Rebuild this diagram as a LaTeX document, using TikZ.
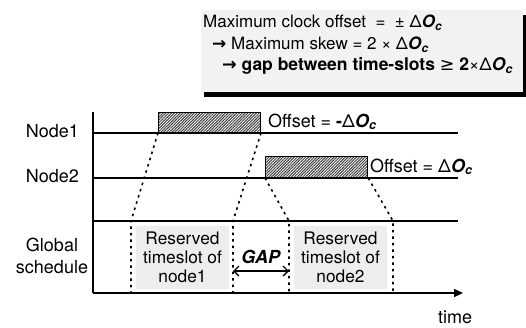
\documentclass[tikz,border=0pt]{standalone}
\usepackage{fontspec}
\setmainfont{TeX Gyre Heros}
\newfontfamily\symf{DejaVu Sans}
\usetikzlibrary{arrows.meta,patterns.meta,shadows}
\newcommand\Oc{\textbf{\textit{O}}\textsubscript{\textbf{\textit{c}}}}
\newcommand\rarr{{\symf\bfseries →}}
\newcommand\geqs{{\symf ≥}}
\tikzset{
  mainline/.style={line width=1.5pt},
  dotline/.style={line width=1.6pt,dash pattern=on 2.5pt off 4pt},
  lbl/.style={inner sep=0pt,font=\fontsize{18}{22}\selectfont},
  toptext/.style={inner sep=0pt,anchor=west,font=\fontsize{17}{20}\selectfont},
  hatchbox/.style={draw,line width=1.2pt,inner sep=0pt,preaction={fill=white},
    pattern={Lines[angle=45,distance=2pt,line width=1pt]},pattern color=black!75,
    minimum width=102pt,anchor=south west},
  resbox/.style={fill=black!7,inner sep=0pt,minimum width=93pt,minimum height=63pt,
    align=center,font=\fontsize{17.3}{19}\selectfont},
  summary/.style={fill=black!5,inner sep=0pt,minimum width=322pt,minimum height=82pt,
    drop shadow={shadow xshift=3pt,shadow yshift=-5pt,fill=black,opacity=1}}
}
\begin{document}
\begin{tikzpicture}[x=1pt,y=-1pt]
\useasboundingbox (0,0) rectangle (526,327);
% summary box
\node[summary] (sum) at (362,51) {};
\node[toptext] (t1) at (203,23) {Maximum clock offset \ = \ ± Δ\Oc};
\node[toptext] (t2) at (212,45) {\rarr\ Maximum skew = 2 × Δ\Oc};
\node[toptext,font=\fontsize{17.5}{20}\selectfont] (t3) at (222,66) {\rarr\ \textbf{gap between time-slots} \geqs\ \textbf{2}×Δ\Oc};
% axes and lines
\coordinate (ytop) at (93,112);
\coordinate (o) at (93,293);
\coordinate (xend) at (463,293);
\coordinate (n1l) at (93,133); \coordinate (n1r) at (458,133);
\coordinate (n2l) at (93,178); \coordinate (n2r) at (458,178);
\coordinate (gl) at (93,221); \coordinate (gr) at (458,221);
\draw[mainline] (ytop) -- (o);
\draw[mainline,-{Triangle[length=9pt,width=8pt]}] (o) -- (xend);
\draw[mainline] (n1l) -- (n1r);
\draw[mainline] (n2l) -- (n2r);
\draw[mainline] (gl) -- (gr);
% labels
\node[lbl,anchor=east] (lab1) at (79,131) {Node1};
\node[lbl,anchor=east] (lab2) at (79,176) {Node2};
\node[lbl,align=center] (lab3) at (52,256) {Global\\schedule};
\node[lbl] (time) at (455,317) {time};
% hatched boxes
\node[hatchbox,minimum height=20pt] (b1) at (158,133) {};
\node[hatchbox,minimum height=21pt] (b2) at (265,178) {};
\node[lbl,anchor=west] (off1) at (268,122) {Offset = \textbf{-}Δ\Oc};
\node[lbl,anchor=west] (off2) at (370,167) {Offset = Δ\Oc};
% reserved boxes
\node[resbox] (r1) at (182.5,257.5) {Reserved\\timeslot of\\node1};
\node[resbox] (r2) at (340.5,257.5) {Reserved\\timeslot of\\node2};
% projections
\coordinate (g1) at (131,221); \coordinate (a1) at (131,293);
\coordinate (g2) at (233,221); \coordinate (a2) at (233,293);
\coordinate (g3) at (289,221); \coordinate (a3) at (289,293);
\coordinate (g4) at (393,221); \coordinate (a4) at (393,293);
\draw[dotline] (b1.south west) -- (g1) -- (a1);
\draw[dotline] (b1.south east) -- (g2) -- (a2);
\draw[dotline] (b2.south west) -- (g3) -- (a3);
\draw[dotline] (b2.south east) -- (g4) -- (a4);
% gap
\node[lbl] (gap) at (261,257) {\textbf{\textit{GAP}}};
\coordinate (gapl) at (233,271); \coordinate (gapr) at (289,271);
\draw[line width=1.3pt,{Straight Barb[length=5pt,width=10pt]}-{Straight Barb[length=5pt,width=10pt]}] (gapl) -- (gapr);
\end{tikzpicture}
\end{document}
